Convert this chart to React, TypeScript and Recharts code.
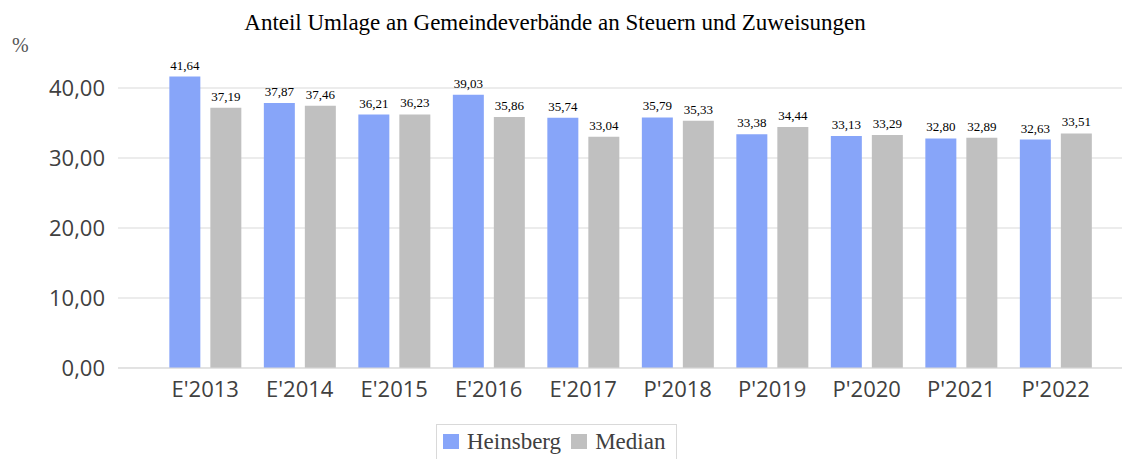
import React from "react";
import { BarChart, Bar, XAxis, YAxis, CartesianGrid, LabelList } from "recharts";

const categories = ["E'2013", "E'2014", "E'2015", "E'2016", "E'2017", "P'2018", "P'2019", "P'2020", "P'2021", "P'2022"];
const heinsberg = [41.64, 37.87, 36.21, 39.03, 35.74, 35.79, 33.38, 33.13, 32.8, 32.63];
const median = [37.19, 37.46, 36.23, 35.86, 33.04, 35.33, 34.44, 33.29, 32.89, 33.51];
const yTicks = [0, 10, 20, 30, 40];

const data = categories.map((c, i) => ({ name: c, heinsberg: heinsberg[i], median: median[i] }));

const fmt = (v: any) => Number(v).toFixed(2).replace(".", ",");

const BLUE = "#87A5F9";
const GRAY = "#C0C0C0";
const AXIS_FONT = "'Open Sans', sans-serif";
const SERIF = "'Liberation Serif', serif";

export default function App() {
  return (
    <div style={{ position: "absolute", left: 0, top: 0, width: 1136, height: 459, background: "#fff", overflow: "hidden" }}>
      <div style={{ position: "absolute", left: 0, top: 10, width: 1110, textAlign: "center", fontFamily: SERIF, fontSize: 23, color: "#000", whiteSpace: "nowrap" }}>
        Anteil Umlage an Gemeindeverbände an Steuern und Zuweisungen
      </div>
      <div style={{ position: "absolute", left: 12, top: 34, fontFamily: SERIF, fontSize: 20, color: "#555" }}>%</div>
      <BarChart
        width={1136}
        height={459}
        data={data}
        margin={{ top: 53, right: 14, left: 0, bottom: 0 }}
        barCategoryGap="12%"
        barGap={10}
      >
        <CartesianGrid vertical={false} stroke="#d9d9d9" horizontalValues={yTicks} />
        <XAxis
          dataKey="name"
          height={91}
          tickLine={false}
          axisLine={{ stroke: "#d9d9d9" }}
          padding={{ left: 40, right: 19 }}
          tick={{ fontFamily: AXIS_FONT, fontSize: 22, fill: "#404040" }}
          tickMargin={7}
          interval={0}
        />
        <YAxis
          width={118}
          domain={[0, 45]}
          ticks={yTicks}
          tickLine={false}
          axisLine={false}
          tickFormatter={fmt}
          tickMargin={7}
          tick={{ fontFamily: AXIS_FONT, fontSize: 22, fill: "#404040" }}
        />
        <Bar dataKey="heinsberg" fill={BLUE} isAnimationActive={false}>
          <LabelList dataKey="heinsberg" position="top" offset={7} formatter={fmt} style={{ fontFamily: SERIF, fontSize: 13, fill: "#000" }} />
        </Bar>
        <Bar dataKey="median" fill={GRAY} isAnimationActive={false}>
          <LabelList dataKey="median" position="top" offset={7} formatter={fmt} style={{ fontFamily: SERIF, fontSize: 13, fill: "#000" }} />
        </Bar>
      </BarChart>
      <div style={{ position: "absolute", left: 436, top: 424, width: 241, height: 40, border: "1px solid #d9d9d9", boxSizing: "border-box", display: "flex", alignItems: "center", fontFamily: SERIF, fontSize: 23, color: "#404040", paddingLeft: 6, paddingBottom: 5 }}>
        <span style={{ display: "inline-block", width: 16, height: 15, background: BLUE, marginRight: 8 }} />
        <span style={{ marginRight: 10 }}>Heinsberg</span>
        <span style={{ display: "inline-block", width: 16, height: 15, background: GRAY, marginRight: 8 }} />
        <span>Median</span>
      </div>
    </div>
  );
}
